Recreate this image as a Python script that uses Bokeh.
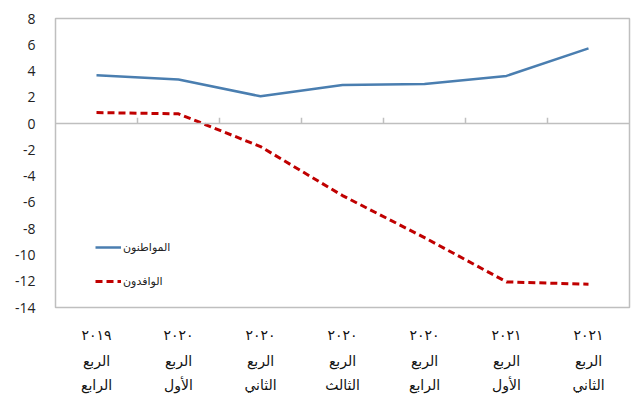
from bokeh.plotting import figure
from bokeh.models import (LinearAxis, FixedTicker, Span, Legend, LegendItem,
                          ColumnDataSource)
from bokeh.embed import file_html
from bokeh.resources import INLINE

# Quarterly change (%), oldest quarter on the left
years = ["٢٠١٩", "٢٠٢٠", "٢٠٢٠", "٢٠٢٠", "٢٠٢٠", "٢٠٢١", "٢٠٢١"]
quarter_word = ["الربع"] * 7
quarter_name = ["الرابع", "الأول", "الثاني", "الثالث", "الرابع", "الأول", "الثاني"]
citizens = [3.68, 3.35, 2.08, 2.94, 3.02, 3.63, 5.73]
expats = [0.84, 0.74, -1.75, -5.48, -8.68, -12.05, -12.23]
y_ticks = list(range(-14, 10, 2))

BLUE = "#4a7eb0"
RED = "#c00000"
GRID = "#bfbfbf"
ARABIC_FONT = "DejaVu Sans"

xs = list(range(len(years)))

p = figure(width=631, height=403, output_backend="svg", toolbar_location=None,
           x_range=(-0.5, len(years) - 0.5), y_range=(y_ticks[0], y_ticks[-1]),
           x_axis_location=None, min_border_left=55, min_border_right=2,
           min_border_top=18, min_border_bottom=96)
p.background_fill_color = "white"
p.border_fill_color = "white"
p.outline_line_color = GRID
p.outline_line_width = 1.5
p.grid.visible = False

# y axis: labels only
ya = p.yaxis[0]
ya.ticker = FixedTicker(ticks=y_ticks)
ya.major_label_overrides = {t: str(t) for t in y_ticks}
ya.axis_line_color = None
ya.major_tick_line_color = None
ya.minor_tick_line_color = None
ya.major_label_text_font = "Open Sans"
ya.major_label_text_font_size = "14px"
ya.major_label_text_color = "#222222"
ya.major_label_standoff = 14

# horizontal zero line with short ticks between categories
p.add_layout(Span(location=0, dimension="width", line_color=GRID, line_width=1.5))
bounds = [i + 0.5 for i in range(len(years) - 1)]
p.segment(x0=bounds, x1=bounds, y0=[0] * len(bounds), y1=[0.45] * len(bounds),
          line_color=GRID, line_width=1.5)

# three stacked category label rows
for labels, standoff in ((years, 13), (quarter_word, 1), (quarter_name, -1)):
    ax = LinearAxis(ticker=FixedTicker(ticks=xs),
                    major_label_overrides={i: t for i, t in zip(xs, labels)})
    ax.axis_line_color = None
    ax.major_tick_line_color = None
    ax.minor_tick_line_color = None
    ax.major_label_standoff = standoff
    ax.major_label_text_font = ARABIC_FONT
    ax.major_label_text_font_size = "14px"
    ax.major_label_text_color = "#111111"
    p.add_layout(ax, "below")

src = ColumnDataSource(dict(x=xs, c=citizens, e=expats))
r1 = p.line("x", "c", source=src, line_color=BLUE, line_width=2.5)
r2 = p.line("x", "e", source=src, line_color=RED, line_width=3, line_dash="7 4")

legend = Legend(items=[LegendItem(label="المواطنون", renderers=[r1]),
                       LegendItem(label="الوافدون", renderers=[r2])],
                location=(40, 16), padding=0, margin=0, spacing=14,
                glyph_width=26, glyph_height=20, label_height=20,
                label_standoff=2, border_line_color=None,
                background_fill_alpha=0)
legend.label_text_font = ARABIC_FONT
legend.label_text_font_size = "11px"
legend.label_text_color = "#222222"
p.add_layout(legend, "center")

open("out.html", "w").write(file_html(p, INLINE))
